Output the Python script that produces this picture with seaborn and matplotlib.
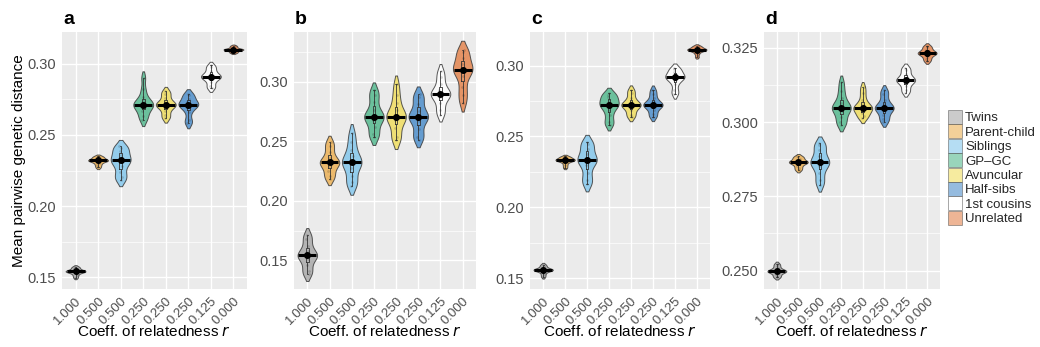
import numpy as np
import pandas as pd
import seaborn as sns
import matplotlib
matplotlib.use("Agg")
import matplotlib.pyplot as plt
from matplotlib.ticker import MultipleLocator, FormatStrFormatter
from matplotlib.patches import Patch

# ---------------- data ----------------
categories = ["Twins", "Parent-child", "Siblings", "GP\u2013GC", "Avuncular",
              "Half-sibs", "1st cousins", "Unrelated"]
r_labels = ["1.000", "0.500", "0.500", "0.250", "0.250", "0.250", "0.125", "0.000"]
colors = ["#A9A9A9", "#EBB156", "#84C7EC", "#55B98F", "#F0DE60",
          "#4E8FCB", "#FFFFFF", "#E3854F"]

panel_a = [
    [0.1498, 0.1514, 0.1528, 0.1537, 0.1542, 0.1542, 0.1543, 0.1548, 0.1556, 0.1567, 0.1574],
    [0.2272, 0.2288, 0.2302, 0.2314, 0.2320, 0.2321, 0.2322, 0.2328, 0.2337, 0.2346, 0.2350],
    [0.2182, 0.2205, 0.2240, 0.2285, 0.2310, 0.2321, 0.2335, 0.2360, 0.2385, 0.2410, 0.2423],
    [0.2606, 0.2630, 0.2665, 0.2695, 0.2708, 0.2713, 0.2718, 0.2735, 0.2765, 0.2820, 0.2903],
    [0.2617, 0.2637, 0.2670, 0.2697, 0.2708, 0.2713, 0.2718, 0.2732, 0.2760, 0.2790, 0.2807],
    [0.2581, 0.2605, 0.2660, 0.2695, 0.2708, 0.2713, 0.2718, 0.2732, 0.2755, 0.2780, 0.2787],
    [0.2828, 0.2845, 0.2875, 0.2898, 0.2906, 0.2909, 0.2915, 0.2930, 0.2950, 0.2974, 0.2988],
    [0.3076, 0.3082, 0.3090, 0.3096, 0.3099, 0.3100, 0.3101, 0.3105, 0.3111, 0.3120, 0.3127],
]
panel_b = [
    [0.1382, 0.1410, 0.1460, 0.1510, 0.1535, 0.1542, 0.1550, 0.1580, 0.1625, 0.1680, 0.1717],
    [0.2183, 0.2210, 0.2250, 0.2295, 0.2315, 0.2323, 0.2332, 0.2360, 0.2410, 0.2460, 0.2496],
    [0.2123, 0.2155, 0.2210, 0.2280, 0.2310, 0.2323, 0.2340, 0.2375, 0.2430, 0.2495, 0.2573],
    [0.2535, 0.2560, 0.2620, 0.2680, 0.2700, 0.2707, 0.2720, 0.2760, 0.2830, 0.2890, 0.2929],
    [0.2509, 0.2540, 0.2610, 0.2675, 0.2698, 0.2707, 0.2718, 0.2760, 0.2820, 0.2890, 0.2979],
    [0.2515, 0.2540, 0.2600, 0.2670, 0.2698, 0.2707, 0.2718, 0.2755, 0.2815, 0.2870, 0.2896],
    [0.2724, 0.2760, 0.2820, 0.2870, 0.2890, 0.2898, 0.2906, 0.2935, 0.2985, 0.3040, 0.3091],
    [0.2824, 0.2890, 0.2960, 0.3050, 0.3090, 0.3102, 0.3115, 0.3150, 0.3200, 0.3250, 0.3270],
]
panel_c = [
    [0.1510, 0.1528, 0.1545, 0.1554, 0.1558, 0.1559, 0.1560, 0.1564, 0.1572, 0.1585, 0.1596],
    [0.2281, 0.2300, 0.2318, 0.2328, 0.2332, 0.2334, 0.2336, 0.2340, 0.2348, 0.2355, 0.2359],
    [0.2164, 0.2190, 0.2240, 0.2300, 0.2325, 0.2334, 0.2345, 0.2375, 0.2415, 0.2450, 0.2460],
    [0.2581, 0.2605, 0.2650, 0.2690, 0.2715, 0.2724, 0.2735, 0.2755, 0.2775, 0.2795, 0.2805],
    [0.2638, 0.2655, 0.2685, 0.2708, 0.2719, 0.2724, 0.2729, 0.2745, 0.2770, 0.2805, 0.2830],
    [0.2638, 0.2657, 0.2688, 0.2710, 0.2720, 0.2724, 0.2729, 0.2743, 0.2768, 0.2800, 0.2830],
    [0.2797, 0.2825, 0.2870, 0.2900, 0.2913, 0.2918, 0.2924, 0.2938, 0.2955, 0.2975, 0.2984],
    [0.3061, 0.3083, 0.3098, 0.3107, 0.3110, 0.3112, 0.3114, 0.3118, 0.3125, 0.3134, 0.3139],
]
panel_d = [
    [0.2477, 0.2482, 0.2489, 0.2495, 0.2497, 0.2498, 0.2499, 0.2502, 0.2508, 0.2516, 0.2523],
    [0.2838, 0.2845, 0.2853, 0.2860, 0.2864, 0.2865, 0.2866, 0.2870, 0.2876, 0.2881, 0.2885],
    [0.2789, 0.2805, 0.2830, 0.2852, 0.2861, 0.2865, 0.2870, 0.2885, 0.2905, 0.2922, 0.2928],
    [0.2991, 0.3000, 0.3018, 0.3036, 0.3045, 0.3048, 0.3052, 0.3063, 0.3082, 0.3105, 0.3134],
    [0.3013, 0.3020, 0.3030, 0.3040, 0.3046, 0.3048, 0.3051, 0.3060, 0.3075, 0.3097, 0.3118],
    [0.3001, 0.3010, 0.3025, 0.3039, 0.3045, 0.3048, 0.3051, 0.3060, 0.3075, 0.3095, 0.3107],
    [0.3099, 0.3108, 0.3122, 0.3134, 0.3139, 0.3141, 0.3144, 0.3152, 0.3163, 0.3176, 0.3183],
    [0.3204, 0.3212, 0.3220, 0.3227, 0.3230, 0.3232, 0.3234, 0.3238, 0.3244, 0.3251, 0.3257],
]

panels = [
    ("a", panel_a, (0.1418, 0.3223), [0.15, 0.20, 0.25, 0.30], "%.2f"),
    ("b", panel_b, (0.1260, 0.3418), [0.15, 0.20, 0.25, 0.30], "%.2f"),
    ("c", panel_c, (0.1424, 0.3237), [0.15, 0.20, 0.25, 0.30], "%.2f"),
    ("d", panel_d, (0.2438, 0.3303), [0.250, 0.275, 0.300, 0.325], "%.3f"),
]

# ---------------- figure ----------------
sns.set_theme(style="darkgrid")
plt.rcParams["font.family"] = ["Liberation Sans", "DejaVu Sans"]

W, H = 1040, 347
fig = plt.figure(figsize=(W / 100, H / 100), dpi=100)

# axes boxes in pixels: left, right, top, bottom
boxes = [(62, 247, 32, 289), (294, 476, 32, 289), (530, 710, 32, 289), (764, 940, 32, 289)]

palette = dict(zip(categories, colors))

for (letter, vals, ylim, yt, fmt), (l, r, t, b) in zip(panels, boxes):
    ax = fig.add_axes([l / W, 1 - b / H, (r - l) / W, (b - t) / H])
    rows = [(c, v) for c, vs in zip(categories, vals) for v in vs]
    df = pd.DataFrame(rows, columns=["group", "value"])

    sns.violinplot(data=df, x="group", y="value", hue="group", order=categories,
                   hue_order=categories, palette=palette, legend=False, cut=1.3,
                   inner=None, density_norm="width", width=0.88, linewidth=0.7,
                   linecolor="#3a3a3a", alpha=0.85, bw_adjust=0.65, gridsize=200,
                   saturation=1, ax=ax)
    sns.boxplot(data=df, x="group", y="value", order=categories, width=0.12,
                fill=False, color="#333333", linewidth=0.6, showfliers=False,
                whis=10, ax=ax)
    sns.boxplot(data=df, x="group", y="value", order=categories, width=0.8,
                showbox=False, showcaps=False, showfliers=False,
                whiskerprops={"visible": False},
                medianprops={"color": "black", "linewidth": 2.2}, ax=ax)
    sns.stripplot(data=df, x="group", y="value", order=categories, color="black",
                  size=2, alpha=0.15, jitter=0.06, ax=ax)
    sns.pointplot(data=df, x="group", y="value", order=categories, estimator="median",
                  errorbar=None, linestyle="none", markers="o", color="black",
                  markersize=3, ax=ax)

    ax.set_facecolor("#EBEBEB")
    ax.set_ylim(*ylim)
    ax.set_xlim(-0.6, 7.6)
    ax.set_yticks(yt)
    ax.yaxis.set_major_formatter(FormatStrFormatter(fmt))
    ax.yaxis.set_minor_locator(MultipleLocator((yt[1] - yt[0]) / 2))
    ax.grid(True, which="major", color="white", linewidth=1.0)
    ax.grid(True, which="minor", axis="y", color="white", linewidth=0.5)
    ax.set_axisbelow(True)
    for s in ax.spines.values():
        s.set_visible(False)
    ax.set_xticks(range(len(r_labels)))
    ax.set_xticklabels(r_labels, rotation=45, ha="right", rotation_mode="anchor")
    ax.tick_params(axis="both", which="major", length=3, width=0.8, color="#333333",
                   labelcolor="#4D4D4D", pad=1.5)
    ax.tick_params(axis="y", which="major", labelsize=10.5)
    ax.tick_params(axis="x", which="major", labelsize=9.5)
    ax.tick_params(axis="y", which="minor", length=0)
    ax.set_xlabel("Coeff. of relatedness $\\it{r}$", fontsize=11, color="black", labelpad=-2)
    if letter == "a":
        ax.set_ylabel("Mean pairwise genetic distance", fontsize=11, color="black", labelpad=1)
    else:
        ax.set_ylabel("")
    fig.text((l + 1) / W, 1 - 20 / H, letter, fontsize=14, fontweight="bold",
             ha="left", va="center", color="black")

handles = [Patch(facecolor=c, edgecolor="#555555", linewidth=0.6, alpha=0.6, label=n)
           for n, c in zip(categories, colors)]
fig.legend(handles=handles, loc="upper left", bbox_to_anchor=(948 / W, 1 - 110 / H),
           frameon=False, fontsize=9.5, handlelength=1.05, handleheight=1.25,
           handletextpad=0.25, labelspacing=0.0, borderaxespad=0, borderpad=0)

fig.savefig("out.png", dpi=100)
